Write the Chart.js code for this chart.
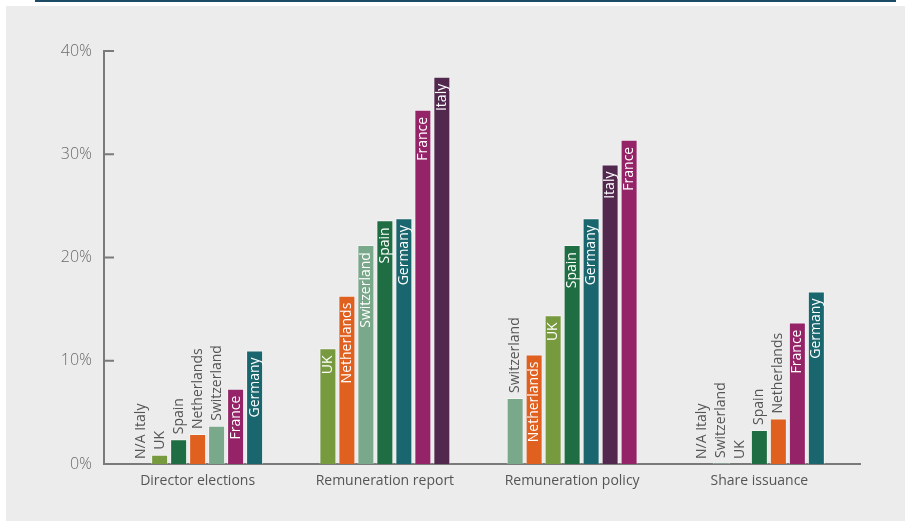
<!DOCTYPE html>
<html>
<head>
<meta charset="utf-8">
<script src="https://cdn.jsdelivr.net/npm/chart.js@4.4.1/dist/chart.umd.min.js"></script>
<style>
  html, body { margin: 0; padding: 0; background: #fff; }
  #wrap { position: relative; width: 905px; height: 521px; overflow: hidden; }
  #panel { position: absolute; left: 6px; top: 6px; right: 0; bottom: 0; background: #ebeceb; }
  #rule { position: absolute; left: 35px; top: 0; width: 861px; height: 2px; background: #1d4a64; }
  canvas { position: absolute; left: 0; top: 0; }
</style>
</head>
<body>
<div id="wrap">
  <div id="panel"></div>
  <div id="rule"></div>
  <canvas id="chart" width="905" height="521"></canvas>
</div>
<script>
const categories = ['Director elections', 'Remuneration report', 'Remuneration policy', 'Share issuance'];
const yTicks = [0, 10, 20, 30, 40];

// countries left to right in each group (each group is sorted on its own)
const slotOrder = [
  ['Italy', 'UK', 'Spain', 'Netherlands', 'Switzerland', 'France', 'Germany'],
  ['UK', 'Netherlands', 'Switzerland', 'Spain', 'Germany', 'France', 'Italy'],
  ['Switzerland', 'Netherlands', 'UK', 'Spain', 'Germany', 'Italy', 'France'],
  ['Italy', 'Switzerland', 'UK', 'Spain', 'Netherlands', 'France', 'Germany']
];

// % values in the same order as slotOrder, null = N/A
const directorElections  = [null, 0.9, 2.4, 2.9, 3.7, 7.3, 11.0];
const remunerationReport = [11.2, 16.3, 21.2, 23.6, 23.8, 34.3, 37.5];
const remunerationPolicy = [6.4, 10.6, 14.4, 21.2, 23.8, 29.0, 31.4];
const shareIssuance      = [null, 0.1, 0, 3.3, 4.4, 13.7, 16.7];
const groupValues = [directorElections, remunerationReport, remunerationPolicy, shareIssuance];

const countryColors = {
  UK: '#779a3e',
  Spain: '#1f6e43',
  Netherlands: '#e06020',
  Switzerland: '#7aa88b',
  France: '#952368',
  Germany: '#1a666f',
  Italy: '#52284e'
};

const labelFont = '14px "Open Sans", sans-serif';

// one dataset per slot position, colours per bar
const datasets = slotOrder[0].map((_, i) => ({
  data: groupValues.map(g => g[i]),
  backgroundColor: slotOrder.map(o => countryColors[o[i]]),
  borderColor: 'rgba(255,255,255,0.45)',
  borderWidth: 1,
  categoryPercentage: 0.71,
  barPercentage: 0.895
}));

// vertical country names, inside the bar if they fit, otherwise above it
const barLabels = {
  id: 'barLabels',
  afterDatasetsDraw(chart) {
    const ctx = chart.ctx;
    const y0 = chart.scales.y.getPixelForValue(0);
    ctx.save();
    ctx.font = labelFont;
    ctx.textBaseline = 'middle';
    chart.data.datasets.forEach((ds, i) => {
      chart.getDatasetMeta(i).data.forEach((bar, j) => {
        const v = ds.data[j];
        const country = slotOrder[j][i];
        const text = v == null ? 'N/A ' + country : country;
        const w = ctx.measureText(text).width;
        const top = v == null ? y0 : bar.y;
        const h = y0 - top;
        ctx.save();
        if (v != null && h >= w + 14) {
          ctx.translate(bar.x, top + 7);
          ctx.rotate(-Math.PI / 2);
          ctx.textAlign = 'right';
          ctx.fillStyle = '#ffffff';
        } else {
          ctx.translate(bar.x, top - 5);
          ctx.rotate(-Math.PI / 2);
          ctx.textAlign = 'left';
          ctx.fillStyle = '#555555';
        }
        ctx.fillText(text, 0, 0);
        ctx.restore();
      });
    });
    ctx.restore();
  }
};

// tick marks pointing into the plot, and the x axis running a bit past the last group
const axisMarks = {
  id: 'axisMarks',
  afterDraw(chart) {
    const ctx = chart.ctx;
    const { left, right, bottom } = chart.chartArea;
    ctx.save();
    ctx.strokeStyle = '#7a7a7a';
    ctx.lineWidth = 2;
    yTicks.forEach(v => {
      const py = chart.scales.y.getPixelForValue(v);
      ctx.beginPath();
      ctx.moveTo(left, py);
      ctx.lineTo(left + 10, py);
      ctx.stroke();
    });
    ctx.beginPath();
    ctx.moveTo(right - 1, bottom);
    ctx.lineTo(right + 8, bottom);
    ctx.stroke();
    ctx.restore();
  }
};

new Chart(document.getElementById('chart'), {
  type: 'bar',
  data: { labels: categories, datasets: datasets },
  plugins: [barLabels, axisMarks],
  options: {
    responsive: false,
    animation: false,
    layout: { padding: { top: 51, right: 52, bottom: 0, left: 0 } },
    plugins: { legend: { display: false }, tooltip: { enabled: false } },
    scales: {
      x: {
        grid: { display: false, drawTicks: false },
        border: { display: true, color: '#7a7a7a', width: 2 },
        ticks: { color: '#555555', font: { family: '"Open Sans", sans-serif', size: 14 }, padding: 9 },
        afterFit(scale) { scale.height = 57; }
      },
      y: {
        min: 0,
        max: 40,
        grid: { display: false, drawTicks: false },
        border: { display: true, color: '#7a7a7a', width: 2 },
        ticks: {
          stepSize: 10,
          color: '#6a6a6a',
          padding: 12,
          font: { family: '"Open Sans", sans-serif', size: 16, weight: 300 },
          callback: v => v + '%'
        },
        afterFit(scale) { scale.width = 104; }
      }
    }
  }
});
</script>
</body>
</html>
